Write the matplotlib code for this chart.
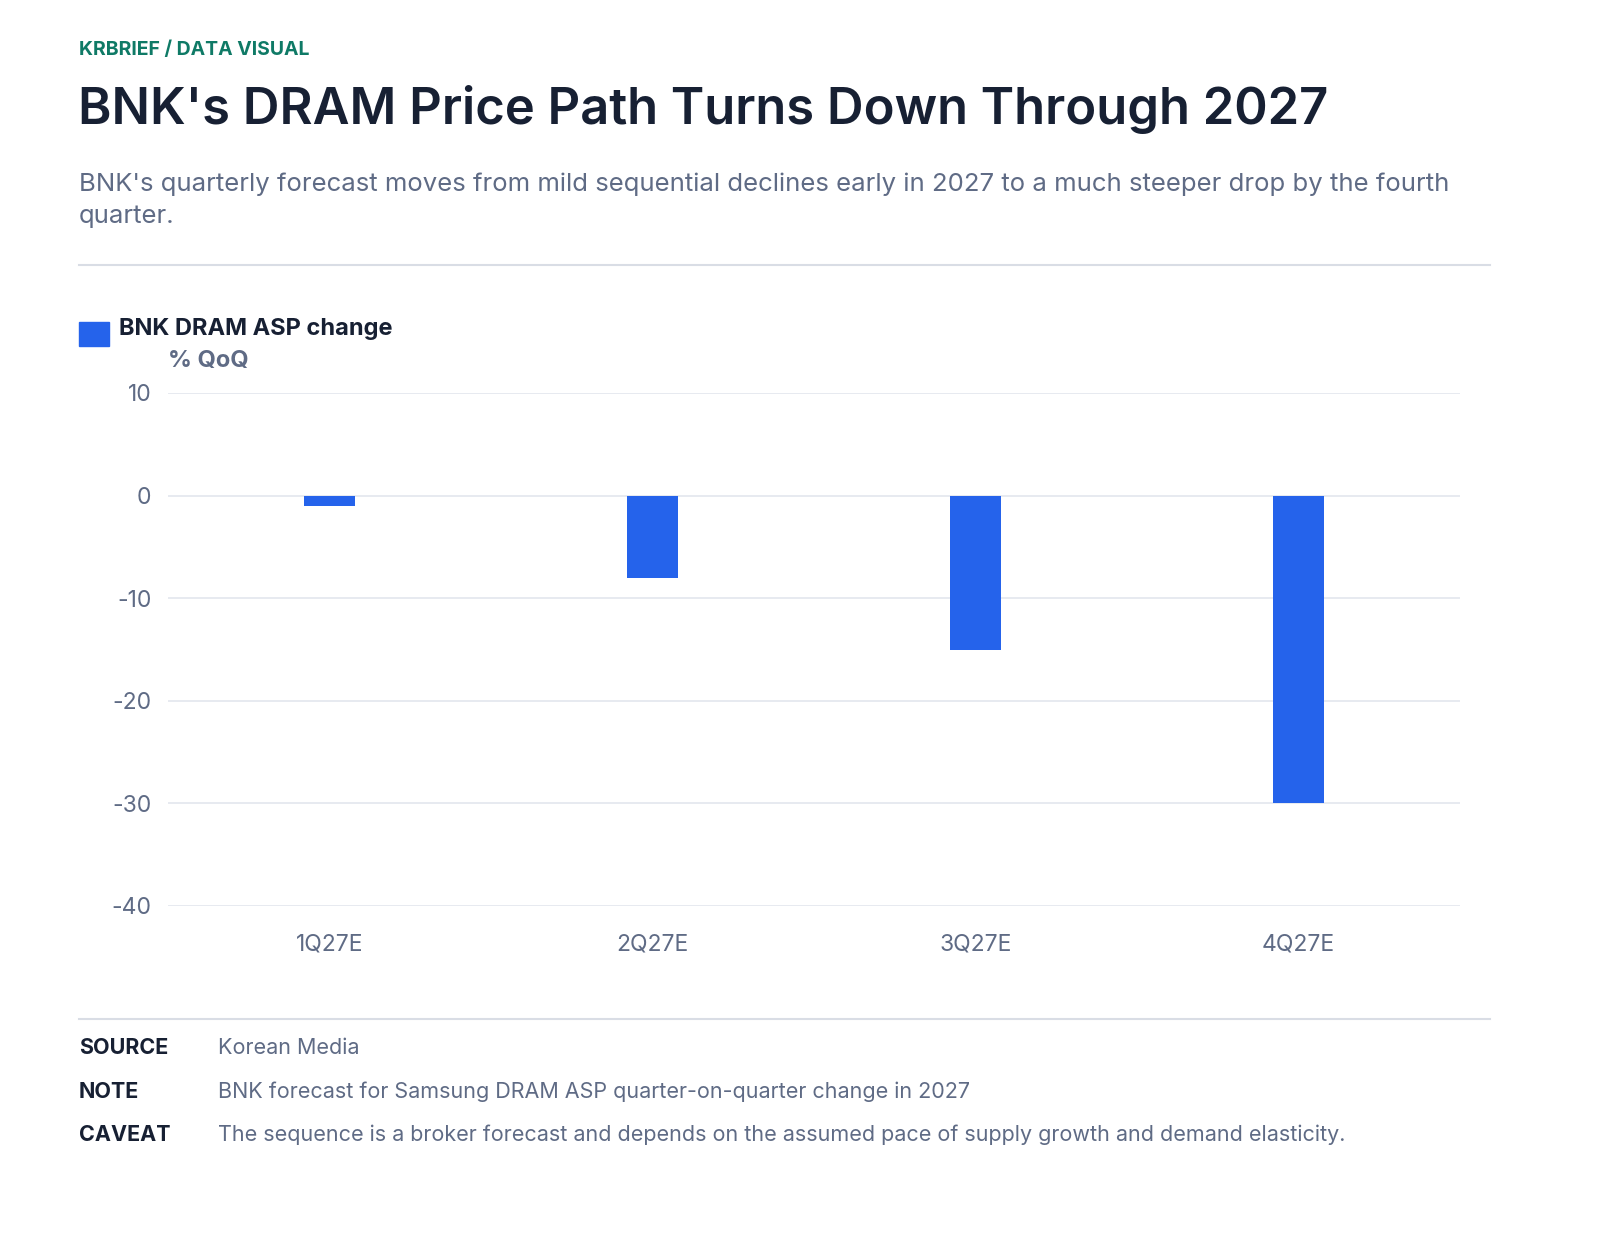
import matplotlib
matplotlib.use("Agg")
import matplotlib.pyplot as plt
from matplotlib.lines import Line2D

categories = ["1Q27E", "2Q27E", "3Q27E", "4Q27E"]
values = [-1, -8, -15, -30]
yticks = [10, 0, -10, -20, -30, -40]

plt.rcParams['font.family'] = ['Inter', 'DejaVu Sans']
plt.rcParams['axes.unicode_minus'] = False
fig = plt.figure(figsize=(16, 12.33), dpi=100)
W, H = 1600, 1233
def fx(x): return x / W
def fy(y): return 1 - y / H

dark = "#172033"
grey = "#5f6b85"
blue = "#2563eb"

fig.text(fx(79), fy(50), "KRBRIEF / DATA VISUAL", color="#0f7a66", fontsize=14, fontweight="bold", va="center")
fig.text(fx(78), fy(110), "BNK's DRAM Price Path Turns Down Through 2027", color=dark, fontsize=36.5, fontweight="semibold", va="center")
fig.text(fx(79), fy(184), "BNK's quarterly forecast moves from mild sequential declines early in 2027 to a much steeper drop by the fourth",
         color=grey, fontsize=18.5, va="center")
fig.text(fx(79), fy(216), "quarter.", color=grey, fontsize=18.5, va="center")
fig.add_artist(Line2D([fx(79), fx(1490)], [fy(265), fy(265)], color="#d9dde5", lw=1.5))

fig.patches.append(plt.Rectangle((fx(79), fy(346)), 30 / W, 24 / H, color=blue, transform=fig.transFigure))
fig.text(fx(119), fy(329), "BNK DRAM ASP change", color=dark, fontsize=17, fontweight="bold", va="center")
fig.text(fx(168), fy(361), "% QoQ", color=grey, fontsize=17, fontweight="bold", va="center")

ax = fig.add_axes([fx(168), fy(906), (1460 - 168) / W, (906 - 393) / H])
x = range(len(categories))
ax.bar(x, values, width=0.16, color=blue, zorder=3)
ax.set_xlim(-0.5, 3.5)
ax.set_ylim(-40, 10)
ax.set_yticks(yticks)
ax.set_yticklabels([str(t) for t in yticks])
ax.set_xticks(list(x))
ax.set_xticklabels(categories)
ax.grid(axis="y", color="#e3e6ed", lw=1.2, zorder=0)
for s in ax.spines.values():
    s.set_visible(False)
ax.tick_params(length=0, labelsize=16.5, colors=grey, pad=12)
ax.tick_params(axis="x", pad=20)

fig.add_artist(Line2D([fx(79), fx(1490)], [fy(1019), fy(1019)], color="#d9dde5", lw=1.5))
rows = [("SOURCE", "Korean Media", 1048),
        ("NOTE", "BNK forecast for Samsung DRAM ASP quarter-on-quarter change in 2027", 1092),
        ("CAVEAT", "The sequence is a broker forecast and depends on the assumed pace of supply growth and demand elasticity.", 1135)]
for lab, txt, y in rows:
    fig.text(fx(79), fy(y), lab, color=dark, fontsize=15.5, fontweight="bold", va="center")
    fig.text(fx(218), fy(y), txt, color=grey, fontsize=15.5, va="center")

fig.savefig("out.png", dpi=100, facecolor="white")
